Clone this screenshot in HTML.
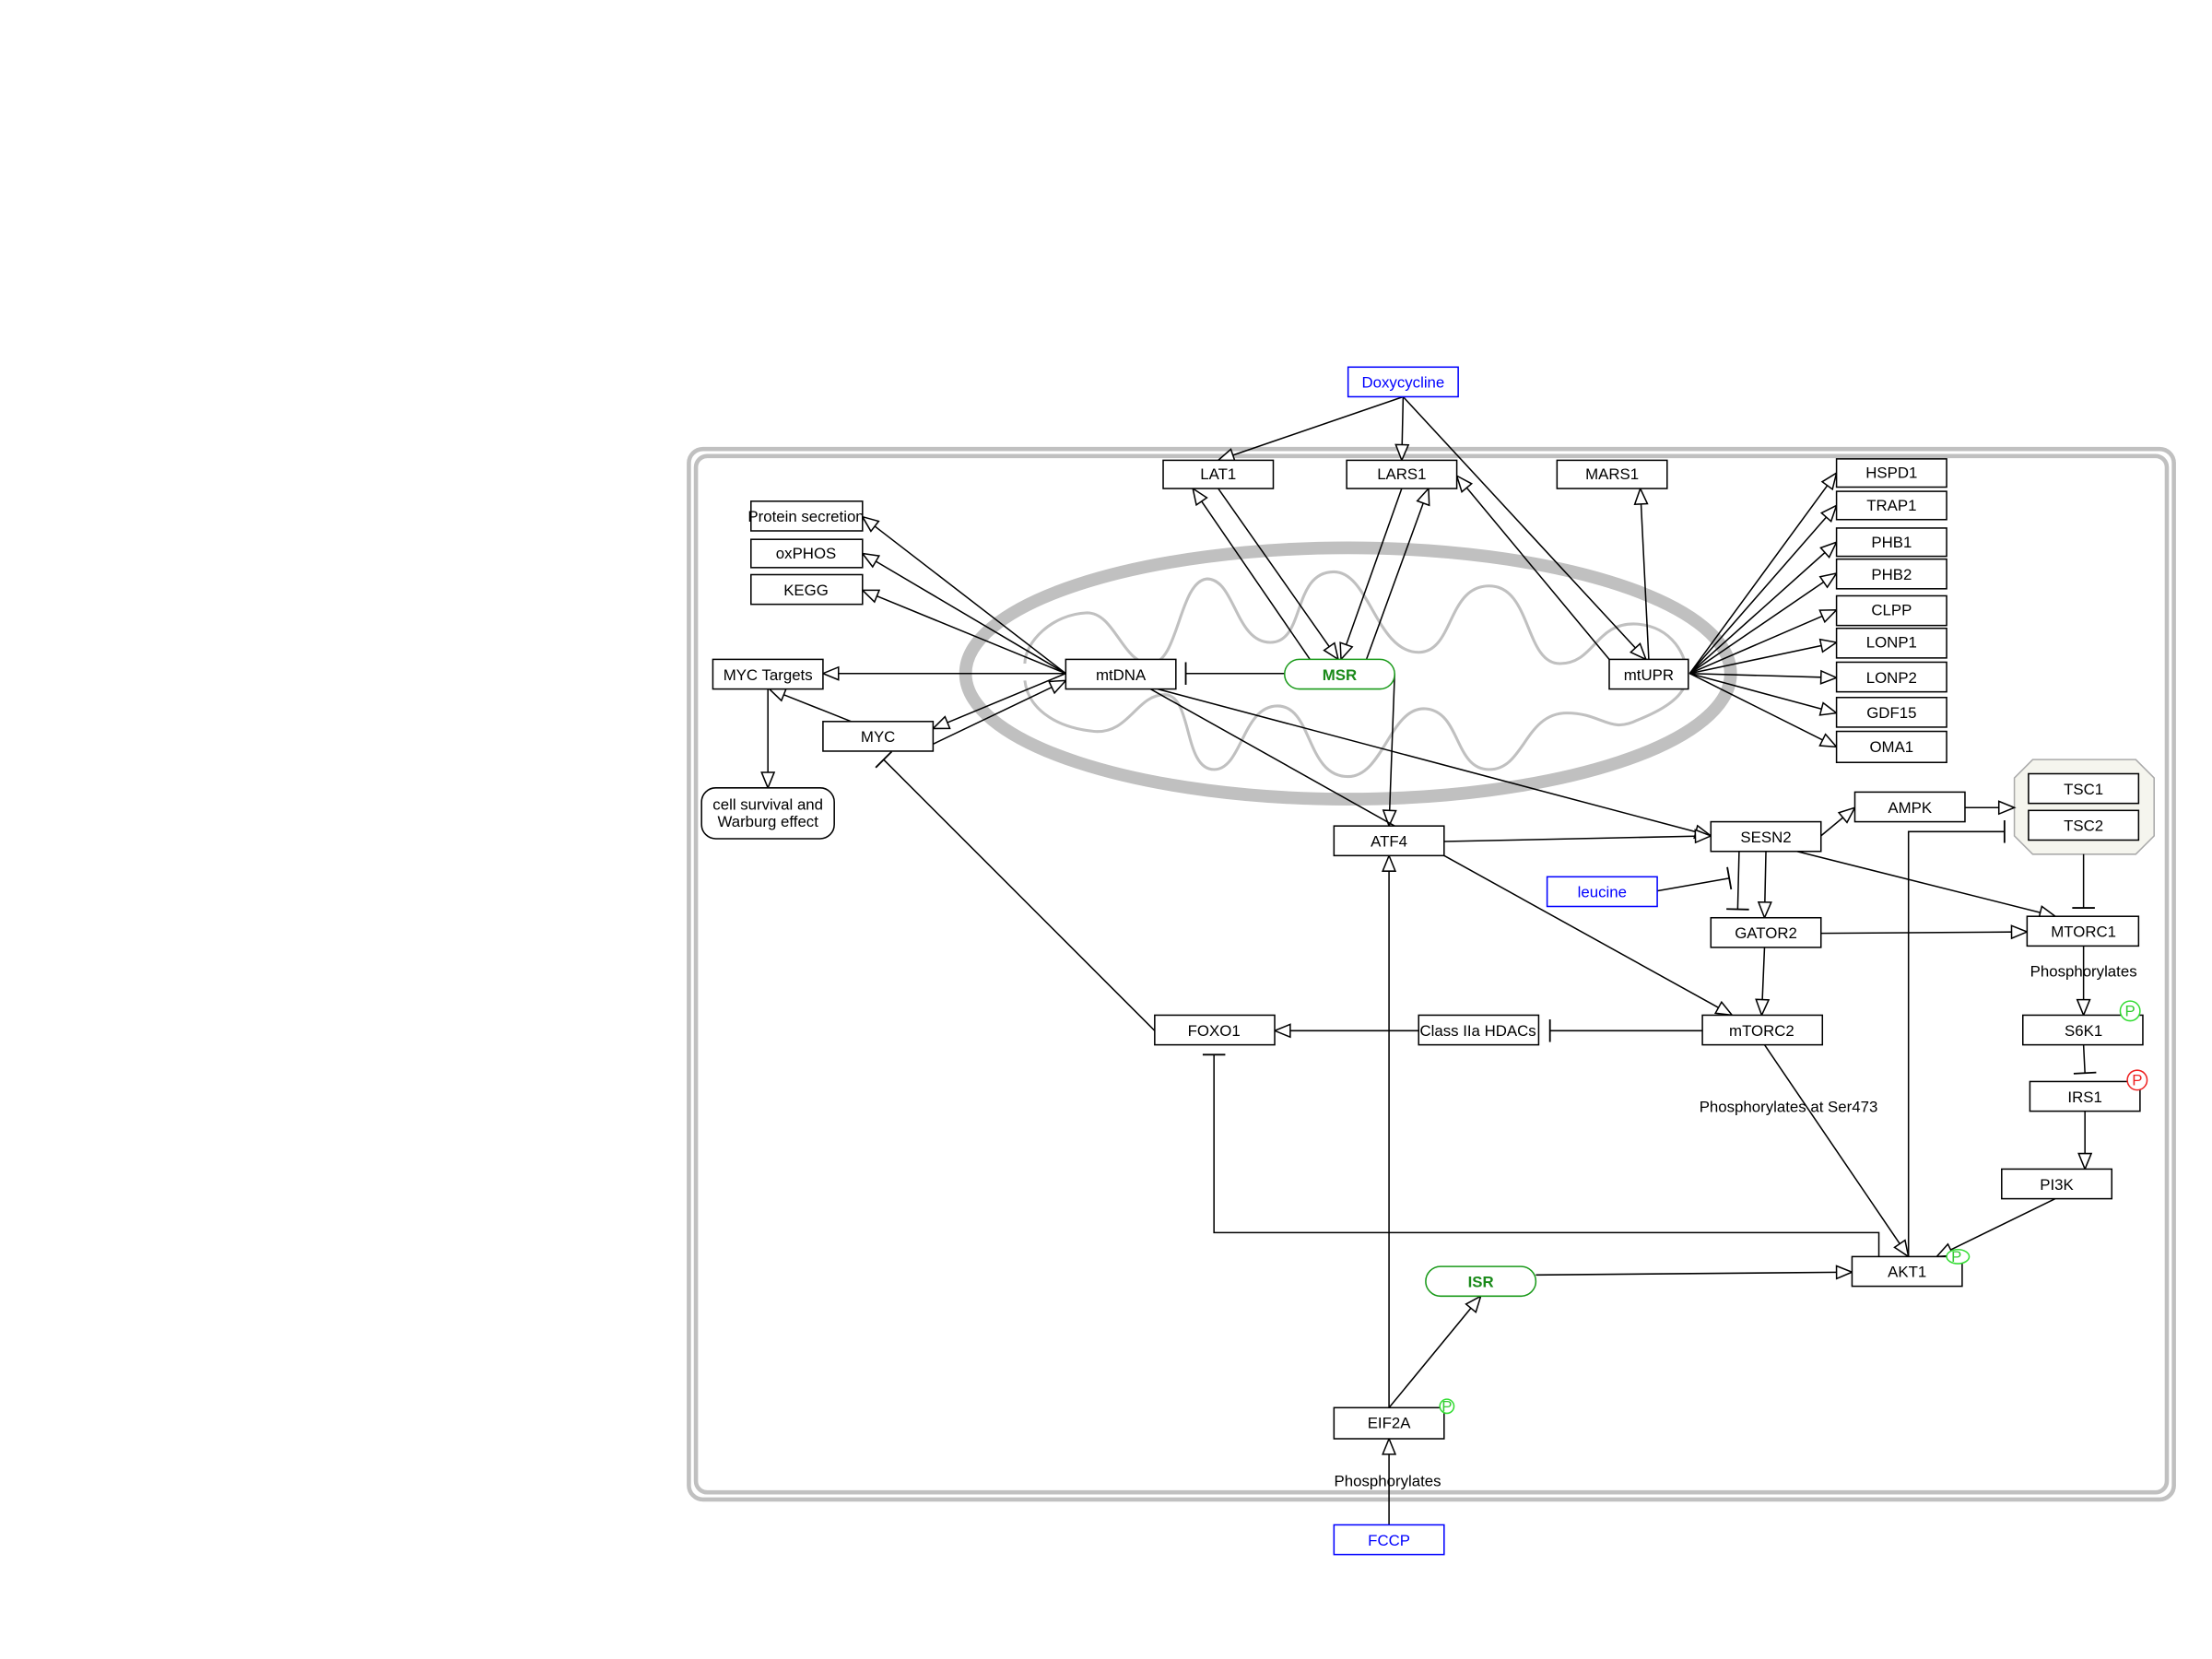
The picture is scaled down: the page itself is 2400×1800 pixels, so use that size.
<!DOCTYPE html>
<html><head><meta charset="utf-8"><style>
html,body{margin:0;padding:0;background:#fff;}
svg{display:block;}
text{font-family:"Liberation Sans",sans-serif;font-size:11px;text-anchor:middle;dominant-baseline:central;}
.b{fill:#fff;stroke:#000;stroke-width:1;}
.bl{fill:#fff;stroke:#0000ff;stroke-width:1;}
.l{fill:none;stroke:#000;stroke-width:1;}
</style></head><body>
<svg width="2400" height="1800" viewBox="0 0 1567 1175" preserveAspectRatio="none" xmlns="http://www.w3.org/2000/svg">
<defs>
<marker id="a" markerUnits="userSpaceOnUse" markerWidth="14" markerHeight="12" refX="12" refY="5" orient="auto" viewBox="0 0 14 10">
<path d="M1,0.5 L12,5 L1,9.5 Z" fill="#fff" stroke="#000" stroke-width="1"/></marker>
<marker id="t" markerUnits="userSpaceOnUse" markerWidth="4" markerHeight="18" refX="2" refY="9" orient="auto" viewBox="0 0 4 18">
<path d="M2,1 L2,17" stroke="#000" stroke-width="1.2"/></marker>
</defs>
<rect x="488" y="318" width="1052" height="744" rx="10" fill="none" stroke="#c0c0c0" stroke-width="3"/>
<rect x="493" y="323" width="1042" height="734" rx="8" fill="none" stroke="#c0c0c0" stroke-width="3"/>
<ellipse cx="955" cy="477" rx="271" ry="89" fill="none" stroke="#c0c0c0" stroke-width="9"/>
<path d="M726,470 C726,455 745,435 770,434 C790,434 795,470 815,470 C835,470 835,412 855,410 C875,410 875,455 900,455 C925,455 915,405 945,405 C970,405 975,462 1005,462 C1030,462 1025,415 1055,415 C1085,415 1080,470 1105,470 C1130,470 1130,440 1160,442 C1185,444 1195,465 1195,478" fill="none" stroke="#c0c0c0" stroke-width="2"/>
<path d="M726,482 C728,500 745,515 775,518 C800,520 805,492 825,492 C845,492 838,545 860,545 C880,545 880,500 905,500 C930,500 925,550 955,550 C980,550 985,500 1010,502 C1035,504 1030,545 1055,545 C1080,545 1080,505 1110,505 C1135,505 1140,520 1160,510 C1185,500 1195,490 1195,478" fill="none" stroke="#c0c0c0" stroke-width="2"/>
<polygon points="1440,538 1513,538 1526,551 1526,592 1513,605 1440,605 1427,592 1427,551" fill="#f5f5ee" stroke="#aaa" stroke-width="1"/>
<g class="l">
<line x1="994" y1="281" x2="863" y2="326" marker-end="url(#a)"/>
<line x1="994" y1="281" x2="993" y2="326" marker-end="url(#a)"/>
<line x1="994" y1="281" x2="1166" y2="467" marker-end="url(#a)"/>
<line x1="863" y1="346" x2="948" y2="467" marker-end="url(#a)"/>
<line x1="928" y1="467" x2="845" y2="346" marker-end="url(#a)"/>
<line x1="993" y1="346" x2="950" y2="467" marker-end="url(#a)"/>
<line x1="968" y1="467" x2="1012" y2="346" marker-end="url(#a)"/>
<line x1="1140" y1="467" x2="1032" y2="337" marker-end="url(#a)"/>
<line x1="1168" y1="467" x2="1162" y2="346" marker-end="url(#a)"/>
<line x1="1197" y1="477" x2="1301" y2="335" marker-end="url(#a)"/>
<line x1="1197" y1="477" x2="1301" y2="358" marker-end="url(#a)"/>
<line x1="1197" y1="477" x2="1301" y2="384" marker-end="url(#a)"/>
<line x1="1197" y1="477" x2="1301" y2="406" marker-end="url(#a)"/>
<line x1="1197" y1="477" x2="1301" y2="432" marker-end="url(#a)"/>
<line x1="1197" y1="477" x2="1301" y2="455" marker-end="url(#a)"/>
<line x1="1197" y1="477" x2="1301" y2="480" marker-end="url(#a)"/>
<line x1="1197" y1="477" x2="1301" y2="505" marker-end="url(#a)"/>
<line x1="1197" y1="477" x2="1301" y2="529" marker-end="url(#a)"/>
<line x1="755" y1="477" x2="611" y2="366" marker-end="url(#a)"/>
<line x1="755" y1="477" x2="611" y2="392" marker-end="url(#a)"/>
<line x1="755" y1="477" x2="611" y2="418" marker-end="url(#a)"/>
<line x1="755" y1="477" x2="583" y2="477" marker-end="url(#a)"/>
<line x1="755" y1="477" x2="661" y2="516" marker-end="url(#a)"/>
<line x1="661" y1="527" x2="755" y2="482" marker-end="url(#a)"/>
<line x1="603" y1="511" x2="545" y2="488" marker-end="url(#a)"/>
<line x1="544" y1="488" x2="544" y2="558" marker-end="url(#a)"/>
<line x1="910" y1="477" x2="840" y2="477" marker-end="url(#t)"/>
<line x1="988" y1="477" x2="984" y2="585" marker-end="url(#a)"/>
<line x1="815" y1="488" x2="988" y2="585"/>
<line x1="820" y1="488" x2="1212" y2="592" marker-end="url(#a)"/>
<line x1="1023" y1="596" x2="1212" y2="592" marker-end="url(#a)"/>
<line x1="1023" y1="606" x2="1227" y2="719" marker-end="url(#a)"/>
<line x1="1290" y1="592" x2="1314" y2="572" marker-end="url(#a)"/>
<line x1="1392" y1="572" x2="1427" y2="572" marker-end="url(#a)"/>
<line x1="1476" y1="605" x2="1476" y2="643" marker-end="url(#t)"/>
<line x1="1273" y1="603" x2="1456" y2="649" marker-end="url(#a)"/>
<line x1="1251" y1="603" x2="1250" y2="650" marker-end="url(#a)"/>
<line x1="1232" y1="603" x2="1231" y2="644" marker-end="url(#t)"/>
<line x1="1174" y1="631" x2="1225" y2="622" marker-end="url(#t)"/>
<line x1="1290" y1="661" x2="1436" y2="660" marker-end="url(#a)"/>
<line x1="1250" y1="671" x2="1248" y2="719" marker-end="url(#a)"/>
<line x1="1476" y1="670" x2="1476" y2="719" marker-end="url(#a)"/>
<line x1="1476" y1="740" x2="1477" y2="760" marker-end="url(#t)"/>
<line x1="1477" y1="787" x2="1477" y2="828" marker-end="url(#a)"/>
<line x1="1456" y1="849" x2="1372" y2="890" marker-end="url(#a)"/>
<line x1="1206" y1="730" x2="1098" y2="730" marker-end="url(#t)"/>
<line x1="1005" y1="730" x2="903" y2="730" marker-end="url(#a)"/>
<line x1="1250" y1="740" x2="1352" y2="890" marker-end="url(#a)"/>
<line x1="818" y1="730" x2="626" y2="538" marker-end="url(#t)"/>
<polyline points="1331,890 1331,873 860,873 860,747" marker-end="url(#t)"/>
<polyline points="1352,890 1352,589 1420,589" marker-end="url(#t)"/>
<line x1="1088" y1="903" x2="1312" y2="901" marker-end="url(#a)"/>
<line x1="984" y1="997" x2="1049" y2="918" marker-end="url(#a)"/>
<line x1="984" y1="997" x2="984" y2="606" marker-end="url(#a)"/>
<line x1="984" y1="1080" x2="984" y2="1019" marker-end="url(#a)"/>
</g>
<rect class="bl" x="955" y="260" width="78" height="21"/><text x="994" y="271" fill="#0000ff">Doxycycline</text>
<rect class="b" x="824" y="326" width="78" height="20"/><text x="863" y="336">LAT1</text>
<rect class="b" x="954" y="326" width="78" height="20"/><text x="993" y="336">LARS1</text>
<rect class="b" x="1103" y="326" width="78" height="20"/><text x="1142" y="336">MARS1</text>
<rect class="b" x="1301" y="325" width="78" height="20"/><text x="1340" y="335">HSPD1</text>
<rect class="b" x="1301" y="348" width="78" height="20"/><text x="1340" y="358">TRAP1</text>
<rect class="b" x="1301" y="374" width="78" height="20"/><text x="1340" y="384">PHB1</text>
<rect class="b" x="1301" y="396" width="78" height="21"/><text x="1340" y="407">PHB2</text>
<rect class="b" x="1301" y="422" width="78" height="21"/><text x="1340" y="432">CLPP</text>
<rect class="b" x="1301" y="445" width="78" height="21"/><text x="1340" y="455">LONP1</text>
<rect class="b" x="1301" y="469" width="78" height="21"/><text x="1340" y="480">LONP2</text>
<rect class="b" x="1301" y="494" width="78" height="21"/><text x="1340" y="505">GDF15</text>
<rect class="b" x="1301" y="518" width="78" height="22"/><text x="1340" y="529">OMA1</text>
<rect class="b" x="532" y="355" width="79" height="21"/><text x="571" y="366">Protein secretion</text>
<rect class="b" x="532" y="382" width="79" height="20"/><text x="571" y="392">oxPHOS</text>
<rect class="b" x="532" y="407" width="79" height="21"/><text x="571" y="418">KEGG</text>
<rect class="b" x="505" y="467" width="78" height="21"/><text x="544" y="478">MYC Targets</text>
<rect class="b" x="583" y="511" width="78" height="21"/><text x="622" y="522">MYC</text>
<rect class="b" x="497" y="558" width="94" height="36" rx="10"/><text x="544" y="570">cell survival and</text><text x="544" y="582">Warburg effect</text>
<rect class="b" x="755" y="467" width="78" height="21"/><text x="794" y="478">mtDNA</text>
<rect x="910" y="467" width="78" height="21" rx="10.5" fill="#fff" stroke="#1a9a1a"/><text x="949" y="478" fill="#1a8a1a" font-weight="bold">MSR</text>
<rect class="b" x="1140" y="467" width="56" height="21"/><text x="1168" y="478">mtUPR</text>
<rect class="b" x="945" y="585" width="78" height="21"/><text x="984" y="596">ATF4</text>
<rect class="b" x="1212" y="582" width="78" height="21"/><text x="1251" y="593">SESN2</text>
<rect class="b" x="1314" y="561" width="78" height="21"/><text x="1353" y="572">AMPK</text>
<rect class="b" x="1437" y="548" width="78" height="21"/><text x="1476" y="559">TSC1</text>
<rect class="b" x="1437" y="574" width="78" height="21"/><text x="1476" y="585">TSC2</text>
<rect class="bl" x="1096" y="621" width="78" height="21"/><text x="1135" y="632" fill="#0000ff">leucine</text>
<rect class="b" x="1212" y="650" width="78" height="21"/><text x="1251" y="661">GATOR2</text>
<rect class="b" x="1436" y="649" width="79" height="21"/><text x="1476" y="660">MTORC1</text>
<text x="1476" y="688">Phosphorylates</text>
<rect class="b" x="1433" y="719" width="85" height="21"/><text x="1476" y="730">S6K1</text>
<circle cx="1509" cy="716" r="7" fill="#fff" stroke="#33dd33"/><text x="1509" y="716" fill="#33cc33">P</text>
<rect class="b" x="1438" y="766" width="78" height="21"/><text x="1477" y="777">IRS1</text>
<circle cx="1514" cy="765" r="7" fill="#fff" stroke="#ee2222"/><text x="1514" y="765" fill="#ee2222">P</text>
<rect class="b" x="1418" y="828" width="78" height="21"/><text x="1457" y="839">PI3K</text>
<rect class="b" x="1312" y="890" width="78" height="21"/><text x="1351" y="901">AKT1</text>
<ellipse cx="1387" cy="890" rx="8" ry="5" fill="#fff" stroke="#33dd33"/><text x="1386" y="890" fill="#33cc33" font-size="10">P</text>
<rect class="b" x="818" y="719" width="85" height="21"/><text x="860" y="730">FOXO1</text>
<rect class="b" x="1005" y="719" width="85" height="21"/><text x="1047" y="730">Class IIa HDACs</text>
<rect class="b" x="1206" y="719" width="85" height="21"/><text x="1248" y="730">mTORC2</text>
<text x="1267" y="784">Phosphorylates at Ser473</text>
<rect x="1010" y="897" width="78" height="21" rx="10.5" fill="#fff" stroke="#1a9a1a"/><text x="1049" y="908" fill="#1a8a1a" font-weight="bold">ISR</text>
<rect class="b" x="945" y="997" width="78" height="22"/><text x="984" y="1008">EIF2A</text>
<circle cx="1025" cy="996" r="5" fill="#fff" stroke="#33dd33"/><text x="1025" y="996" fill="#33cc33" font-size="10">P</text>
<text x="983" y="1049">Phosphorylates</text>
<rect class="bl" x="945" y="1080" width="78" height="21"/><text x="984" y="1091" fill="#0000ff">FCCP</text>
</svg>
</body></html>
